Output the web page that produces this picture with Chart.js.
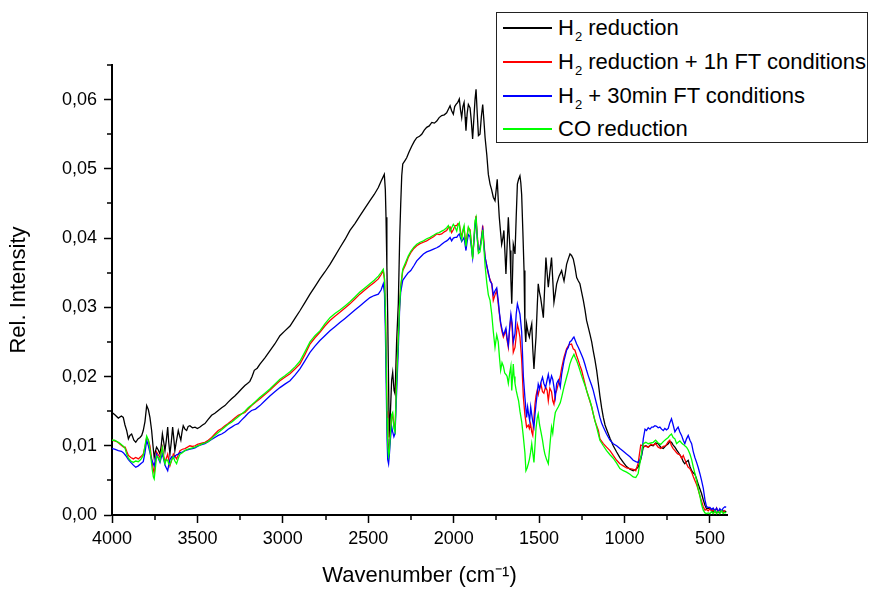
<!DOCTYPE html>
<html><head><meta charset="utf-8">
<script src="https://cdn.jsdelivr.net/npm/chart.js@4/dist/chart.umd.min.js"></script>
<style>
html,body{margin:0;padding:0;background:#fff;}
#wrap{position:relative;width:871px;height:589px;}
#c{position:absolute;left:0;top:0;}
#legend{position:absolute;left:496px;top:12px;width:372px;height:131px;box-sizing:border-box;border:1px solid #222;background:#fff;font-family:"Liberation Sans",Arial,sans-serif;font-size:22px;color:#000;}
.ln{position:absolute;left:6px;width:49px;height:2px;}
.tx{position:absolute;left:61px;height:24px;line-height:24px;white-space:nowrap;}
.tx sub{font-size:13px;vertical-align:-6px;line-height:0;margin-left:1px;}
</style>
</head><body>
<div id="wrap"><canvas id="c" width="871" height="589"></canvas><div id="legend"></div></div>
<script>
const seriesNames = ['H₂ reduction', 'H₂ reduction + 1h FT conditions', 'H₂ + 30min FT conditions', 'CO reduction'];
const seriesColors = ['#000000', '#ff0000', '#0000ff', '#00ff00'];
const xTickLabels = [4000, 3500, 3000, 2500, 2000, 1500, 1000, 500];
const yTickLabels = ['0,00', '0,01', '0,02', '0,03', '0,04', '0,05', '0,06'];

const blackWn = [4000,3985,3963,3945,3934,3924,3914,3904,3895,3885,3872,3861,3848,3836,3826,3817,3807,3797,3787,3778,3768,3760,3753,3746,3739,3729,3719,3712,3705,3697,3690,3682,3674,3668,3661,3653,3645,3638,3632,3622,3612,3605,3597,3590,3583,3573,3563,3554,3544,3529,3514,3500,3485,3470,3456,3437,3417,3398,3378,3358,3339,3320,3300,3281,3261,3242,3222,3207,3193,3180,3167,3150,3134,3105,3076,3047,3017,2988,2958,2929,2900,2870,2841,2812,2783,2754,2724,2695,2666,2636,2607,2578,2549,2520,2490,2465,2441,2425,2406,2400,2396,2391,2386,2381,2377,2370,2363,2357,2349,2343,2334,2324,2316,2310,2304,2298,2285,2275,2260,2245,2230,2216,2200,2187,2172,2158,2143,2128,2113,2099,2085,2070,2055,2041,2031,2021,2012,2002,1994,1986,1976,1967,1960,1953,1946,1939,1933,1928,1921,1914,1904,1897,1889,1880,1875,1869,1862,1855,1846,1838,1830,1823,1816,1806,1797,1787,1778,1768,1758,1751,1745,1739,1733,1726,1719,1712,1706,1700,1694,1687,1680,1675,1670,1665,1660,1655,1651,1646,1641,1634,1627,1620,1612,1607,1602,1595,1588,1583,1578,1573,1569,1563,1557,1550,1543,1537,1530,1524,1518,1511,1505,1498,1491,1483,1475,1467,1460,1453,1446,1437,1427,1420,1413,1405,1397,1383,1368,1361,1354,1346,1339,1329,1319,1310,1300,1290,1280,1270,1261,1251,1241,1231,1222,1212,1202,1192,1183,1173,1163,1153,1144,1134,1124,1114,1105,1085,1066,1046,1027,1007,988,968,949,934,920,905,890,875,861,846,832,818,803,788,773,759,744,735,725,715,705,695,686,676,666,656,647,637,627,617,607,598,588,578,569,559,549,539,529,520,510,500,490,481,471,461,451,442,432,422,412,405];
const blackVal = [0.0148,0.0145,0.0140,0.0143,0.0141,0.0130,0.0122,0.0110,0.0115,0.0117,0.0108,0.0105,0.0110,0.0112,0.0115,0.0122,0.0135,0.0158,0.0152,0.0141,0.0122,0.0100,0.0083,0.0092,0.0098,0.0094,0.0088,0.0100,0.0117,0.0105,0.0093,0.0108,0.0127,0.0105,0.0088,0.0105,0.0127,0.0110,0.0093,0.0108,0.0122,0.0115,0.0108,0.0120,0.0129,0.0124,0.0122,0.0128,0.0129,0.0126,0.0127,0.0125,0.0127,0.0130,0.0132,0.0138,0.0144,0.0147,0.0151,0.0155,0.0158,0.0163,0.0168,0.0172,0.0177,0.0182,0.0187,0.0190,0.0193,0.0200,0.0209,0.0212,0.0218,0.0227,0.0237,0.0247,0.0259,0.0266,0.0273,0.0284,0.0295,0.0307,0.0319,0.0330,0.0341,0.0351,0.0362,0.0374,0.0386,0.0398,0.0411,0.0421,0.0432,0.0443,0.0454,0.0463,0.0473,0.0482,0.0492,0.0470,0.0430,0.0360,0.0285,0.0190,0.0112,0.0150,0.0195,0.0206,0.0180,0.0175,0.0250,0.0305,0.0400,0.0449,0.0490,0.0507,0.0512,0.0516,0.0525,0.0533,0.0540,0.0545,0.0547,0.0550,0.0556,0.0560,0.0562,0.0567,0.0566,0.0569,0.0574,0.0577,0.0578,0.0581,0.0586,0.0591,0.0584,0.0579,0.0590,0.0593,0.0596,0.0601,0.0585,0.0574,0.0590,0.0596,0.0575,0.0555,0.0580,0.0593,0.0588,0.0570,0.0543,0.0580,0.0600,0.0615,0.0580,0.0548,0.0550,0.0575,0.0593,0.0570,0.0545,0.0520,0.0492,0.0478,0.0470,0.0459,0.0454,0.0470,0.0485,0.0455,0.0430,0.0410,0.0391,0.0400,0.0411,0.0380,0.0348,0.0390,0.0430,0.0405,0.0382,0.0340,0.0305,0.0350,0.0391,0.0385,0.0377,0.0430,0.0478,0.0485,0.0490,0.0480,0.0463,0.0410,0.0353,0.0270,0.0250,0.0276,0.0270,0.0262,0.0257,0.0268,0.0276,0.0240,0.0211,0.0235,0.0257,0.0300,0.0334,0.0322,0.0314,0.0300,0.0285,0.0330,0.0372,0.0350,0.0329,0.0350,0.0372,0.0340,0.0307,0.0320,0.0334,0.0345,0.0353,0.0345,0.0338,0.0350,0.0362,0.0370,0.0377,0.0375,0.0370,0.0358,0.0343,0.0338,0.0334,0.0322,0.0310,0.0296,0.0281,0.0271,0.0261,0.0250,0.0237,0.0224,0.0209,0.0190,0.0172,0.0155,0.0141,0.0130,0.0124,0.0111,0.0100,0.0091,0.0083,0.0076,0.0070,0.0066,0.0064,0.0066,0.0069,0.0080,0.0098,0.0100,0.0098,0.0101,0.0100,0.0104,0.0103,0.0098,0.0096,0.0100,0.0103,0.0106,0.0105,0.0101,0.0098,0.0094,0.0091,0.0087,0.0083,0.0077,0.0074,0.0077,0.0079,0.0070,0.0064,0.0061,0.0059,0.0052,0.0045,0.0038,0.0031,0.0022,0.0014,0.0009,0.0010,0.0009,0.0008,0.0004,0.0007,0.0003,0.0005,0.0003,0.0006,0.0006,0.0004,0.0006];

const ftWn = [4000,3985,3971,3956,3942,3932,3923,3914,3904,3890,3875,3861,3846,3832,3817,3807,3797,3787,3778,3770,3764,3758,3753,3746,3739,3729,3719,3712,3705,3697,3690,3682,3674,3668,3661,3650,3641,3632,3622,3612,3602,3588,3573,3558,3544,3529,3514,3500,3485,3470,3456,3437,3417,3398,3378,3358,3339,3320,3300,3281,3261,3242,3222,3203,3183,3160,3134,3105,3076,3047,3017,2988,2958,2929,2900,2870,2841,2812,2783,2754,2724,2695,2666,2636,2607,2578,2549,2520,2490,2465,2441,2425,2412,2405,2400,2395,2390,2386,2381,2377,2370,2363,2357,2350,2343,2335,2324,2316,2310,2298,2281,2266,2251,2233,2216,2197,2177,2158,2138,2118,2099,2085,2070,2055,2041,2031,2021,2012,2002,1992,1982,1975,1967,1960,1953,1946,1939,1933,1928,1921,1914,1904,1897,1889,1880,1875,1869,1862,1855,1846,1838,1830,1823,1816,1806,1797,1787,1777,1768,1758,1748,1739,1732,1725,1717,1709,1701,1694,1687,1680,1672,1665,1658,1651,1641,1634,1627,1620,1612,1602,1592,1583,1573,1563,1557,1550,1543,1537,1530,1524,1518,1511,1505,1497,1489,1480,1472,1462,1453,1446,1437,1427,1420,1413,1405,1397,1387,1376,1368,1354,1339,1325,1310,1300,1290,1280,1270,1261,1251,1241,1231,1222,1212,1202,1192,1183,1173,1163,1153,1144,1124,1105,1085,1066,1046,1027,1007,988,968,949,934,920,905,890,875,861,846,832,818,803,788,773,759,744,735,725,715,705,695,686,676,666,656,647,637,627,617,607,598,588,578,569,559,549,539,529,520,510,500,490,481,471,461,451,442,432,422,412,405];
const ftVal = [0.0108,0.0107,0.0106,0.0103,0.0100,0.0098,0.0098,0.0092,0.0086,0.0083,0.0081,0.0083,0.0081,0.0084,0.0088,0.0098,0.0112,0.0108,0.0100,0.0085,0.0074,0.0066,0.0060,0.0075,0.0091,0.0087,0.0083,0.0090,0.0098,0.0085,0.0076,0.0082,0.0088,0.0080,0.0071,0.0080,0.0088,0.0085,0.0081,0.0087,0.0093,0.0095,0.0096,0.0098,0.0100,0.0099,0.0100,0.0102,0.0103,0.0104,0.0105,0.0108,0.0112,0.0117,0.0122,0.0125,0.0129,0.0132,0.0136,0.0140,0.0144,0.0146,0.0148,0.0153,0.0158,0.0163,0.0168,0.0174,0.0180,0.0187,0.0194,0.0199,0.0204,0.0211,0.0218,0.0232,0.0247,0.0256,0.0264,0.0273,0.0281,0.0287,0.0293,0.0299,0.0305,0.0312,0.0319,0.0325,0.0331,0.0336,0.0341,0.0347,0.0353,0.0340,0.0300,0.0230,0.0150,0.0110,0.0095,0.0098,0.0120,0.0140,0.0145,0.0130,0.0125,0.0190,0.0257,0.0305,0.0329,0.0353,0.0362,0.0372,0.0379,0.0385,0.0389,0.0392,0.0394,0.0396,0.0399,0.0402,0.0406,0.0405,0.0406,0.0409,0.0411,0.0415,0.0416,0.0408,0.0412,0.0418,0.0418,0.0421,0.0420,0.0410,0.0401,0.0410,0.0415,0.0400,0.0391,0.0405,0.0415,0.0412,0.0395,0.0372,0.0400,0.0420,0.0432,0.0405,0.0382,0.0385,0.0400,0.0418,0.0395,0.0372,0.0360,0.0348,0.0340,0.0334,0.0310,0.0318,0.0324,0.0305,0.0290,0.0276,0.0265,0.0257,0.0262,0.0266,0.0252,0.0242,0.0270,0.0285,0.0272,0.0235,0.0242,0.0258,0.0275,0.0268,0.0257,0.0225,0.0170,0.0145,0.0127,0.0130,0.0125,0.0132,0.0120,0.0115,0.0140,0.0160,0.0172,0.0180,0.0174,0.0183,0.0189,0.0178,0.0176,0.0185,0.0180,0.0165,0.0183,0.0178,0.0165,0.0160,0.0175,0.0180,0.0190,0.0200,0.0212,0.0228,0.0240,0.0246,0.0247,0.0240,0.0238,0.0230,0.0223,0.0216,0.0209,0.0199,0.0189,0.0180,0.0172,0.0164,0.0156,0.0146,0.0136,0.0129,0.0122,0.0110,0.0103,0.0098,0.0093,0.0086,0.0079,0.0074,0.0071,0.0068,0.0067,0.0066,0.0064,0.0075,0.0101,0.0100,0.0099,0.0098,0.0102,0.0101,0.0103,0.0098,0.0096,0.0099,0.0100,0.0106,0.0108,0.0100,0.0096,0.0093,0.0090,0.0088,0.0087,0.0082,0.0086,0.0080,0.0074,0.0069,0.0067,0.0062,0.0056,0.0050,0.0044,0.0037,0.0028,0.0020,0.0012,0.0007,0.0008,0.0006,0.0009,0.0005,0.0008,0.0004,0.0010,0.0004,0.0008,0.0006,0.0003,0.0007];

const minWn = [4000,3985,3963,3945,3934,3920,3904,3890,3875,3861,3846,3832,3817,3807,3797,3787,3778,3768,3758,3753,3746,3739,3729,3719,3712,3705,3697,3690,3682,3674,3668,3661,3650,3641,3632,3622,3612,3602,3588,3573,3558,3544,3529,3514,3500,3485,3470,3456,3437,3417,3398,3378,3358,3339,3320,3300,3281,3261,3242,3222,3203,3183,3160,3134,3105,3076,3047,3017,2988,2958,2929,2900,2870,2841,2812,2783,2754,2724,2695,2666,2636,2607,2578,2549,2520,2490,2465,2441,2425,2412,2405,2400,2395,2390,2386,2381,2377,2370,2363,2357,2350,2343,2335,2324,2316,2310,2298,2281,2266,2251,2233,2216,2197,2177,2158,2138,2118,2099,2085,2070,2055,2041,2031,2021,2012,2002,1992,1982,1975,1967,1960,1953,1946,1939,1933,1928,1921,1914,1904,1897,1889,1880,1875,1869,1862,1855,1846,1838,1830,1823,1816,1806,1797,1787,1777,1768,1758,1748,1739,1732,1725,1717,1709,1701,1694,1687,1680,1672,1665,1658,1651,1641,1634,1627,1620,1612,1602,1592,1583,1573,1567,1561,1555,1549,1543,1537,1530,1524,1518,1511,1505,1497,1489,1480,1472,1462,1453,1446,1437,1427,1420,1413,1405,1397,1387,1376,1368,1354,1339,1329,1320,1310,1303,1296,1288,1280,1270,1261,1251,1241,1231,1222,1212,1202,1192,1183,1173,1163,1153,1144,1134,1124,1105,1085,1066,1046,1027,1007,988,968,949,934,920,910,900,890,880,871,861,851,841,832,822,812,803,793,783,773,764,754,744,735,725,715,705,695,686,676,666,656,647,637,627,617,607,598,588,578,569,559,549,539,529,520,510,500,490,481,471,461,451,442,432,422,412,405];
const minVal = [0.0096,0.0095,0.0093,0.0092,0.0090,0.0086,0.0080,0.0076,0.0072,0.0069,0.0071,0.0074,0.0077,0.0090,0.0108,0.0100,0.0090,0.0080,0.0074,0.0071,0.0080,0.0088,0.0082,0.0076,0.0083,0.0088,0.0080,0.0072,0.0068,0.0064,0.0072,0.0080,0.0084,0.0082,0.0085,0.0087,0.0088,0.0090,0.0091,0.0093,0.0094,0.0095,0.0096,0.0097,0.0099,0.0101,0.0102,0.0103,0.0106,0.0109,0.0112,0.0115,0.0117,0.0120,0.0124,0.0127,0.0130,0.0132,0.0137,0.0142,0.0147,0.0151,0.0153,0.0158,0.0165,0.0172,0.0178,0.0184,0.0189,0.0194,0.0202,0.0211,0.0223,0.0235,0.0244,0.0252,0.0259,0.0266,0.0272,0.0278,0.0284,0.0290,0.0296,0.0302,0.0308,0.0314,0.0317,0.0319,0.0325,0.0334,0.0320,0.0270,0.0190,0.0110,0.0080,0.0074,0.0085,0.0110,0.0128,0.0120,0.0113,0.0118,0.0170,0.0240,0.0300,0.0322,0.0339,0.0345,0.0350,0.0353,0.0360,0.0367,0.0372,0.0377,0.0380,0.0382,0.0384,0.0386,0.0388,0.0391,0.0394,0.0396,0.0398,0.0401,0.0396,0.0400,0.0401,0.0401,0.0404,0.0406,0.0400,0.0395,0.0398,0.0401,0.0390,0.0382,0.0395,0.0405,0.0402,0.0388,0.0372,0.0400,0.0418,0.0425,0.0400,0.0382,0.0385,0.0398,0.0412,0.0390,0.0372,0.0360,0.0350,0.0338,0.0334,0.0318,0.0324,0.0328,0.0310,0.0292,0.0278,0.0268,0.0260,0.0265,0.0270,0.0255,0.0245,0.0272,0.0290,0.0278,0.0250,0.0262,0.0290,0.0305,0.0298,0.0290,0.0265,0.0200,0.0170,0.0141,0.0156,0.0145,0.0136,0.0156,0.0145,0.0135,0.0127,0.0145,0.0160,0.0175,0.0189,0.0182,0.0192,0.0199,0.0190,0.0184,0.0195,0.0203,0.0190,0.0201,0.0196,0.0185,0.0170,0.0190,0.0195,0.0185,0.0203,0.0223,0.0238,0.0242,0.0250,0.0252,0.0255,0.0257,0.0252,0.0247,0.0242,0.0237,0.0231,0.0225,0.0217,0.0209,0.0201,0.0194,0.0187,0.0180,0.0170,0.0160,0.0150,0.0141,0.0133,0.0127,0.0117,0.0108,0.0103,0.0100,0.0096,0.0092,0.0088,0.0084,0.0079,0.0077,0.0076,0.0080,0.0086,0.0110,0.0124,0.0122,0.0126,0.0124,0.0127,0.0127,0.0129,0.0128,0.0126,0.0127,0.0124,0.0122,0.0125,0.0123,0.0125,0.0133,0.0139,0.0130,0.0120,0.0124,0.0127,0.0120,0.0115,0.0108,0.0103,0.0110,0.0115,0.0108,0.0103,0.0092,0.0083,0.0076,0.0069,0.0060,0.0050,0.0039,0.0022,0.0012,0.0011,0.0011,0.0008,0.0010,0.0006,0.0010,0.0005,0.0009,0.0006,0.0010,0.0012,0.0011];

const coWn = [4000,3985,3971,3956,3942,3932,3923,3914,3904,3890,3875,3861,3846,3832,3817,3807,3797,3787,3778,3770,3764,3758,3753,3746,3739,3729,3719,3712,3705,3697,3690,3682,3674,3668,3661,3650,3641,3632,3622,3612,3602,3588,3573,3558,3544,3529,3514,3500,3485,3470,3456,3437,3417,3398,3378,3358,3339,3320,3300,3281,3261,3242,3222,3203,3183,3160,3134,3105,3076,3047,3017,2988,2958,2929,2900,2870,2841,2812,2783,2754,2724,2695,2666,2636,2607,2578,2549,2520,2490,2465,2441,2425,2412,2405,2400,2395,2390,2386,2381,2377,2370,2363,2357,2350,2343,2335,2324,2316,2310,2298,2281,2266,2251,2233,2216,2197,2177,2158,2138,2118,2099,2085,2070,2055,2041,2031,2021,2012,2002,1992,1982,1975,1967,1960,1953,1946,1939,1933,1928,1921,1914,1904,1897,1889,1880,1875,1869,1862,1855,1846,1838,1830,1823,1816,1806,1797,1787,1777,1768,1758,1748,1739,1732,1725,1717,1709,1701,1694,1687,1680,1672,1665,1660,1655,1651,1646,1641,1634,1627,1620,1612,1602,1593,1583,1577,1570,1563,1557,1550,1543,1537,1530,1524,1518,1511,1505,1497,1489,1480,1472,1466,1456,1446,1437,1427,1420,1413,1405,1397,1388,1376,1368,1354,1339,1329,1320,1310,1296,1288,1280,1270,1261,1251,1241,1231,1222,1212,1202,1192,1183,1173,1163,1153,1144,1124,1105,1085,1066,1046,1027,1007,988,968,949,934,920,910,900,890,875,861,846,832,818,803,788,773,759,744,735,725,715,705,695,686,676,666,656,647,637,627,617,607,598,588,578,569,559,549,539,529,520,510,500,490,481,471,461,451,442,432,422,412,405];
const coVal = [0.0108,0.0108,0.0106,0.0104,0.0101,0.0099,0.0096,0.0088,0.0082,0.0078,0.0076,0.0078,0.0077,0.0080,0.0086,0.0100,0.0114,0.0108,0.0095,0.0078,0.0065,0.0055,0.0052,0.0068,0.0085,0.0083,0.0078,0.0090,0.0097,0.0082,0.0074,0.0080,0.0079,0.0074,0.0073,0.0080,0.0084,0.0078,0.0074,0.0082,0.0088,0.0090,0.0093,0.0095,0.0096,0.0097,0.0098,0.0100,0.0101,0.0103,0.0104,0.0106,0.0110,0.0115,0.0119,0.0123,0.0127,0.0131,0.0134,0.0138,0.0142,0.0146,0.0150,0.0155,0.0159,0.0164,0.0170,0.0176,0.0182,0.0189,0.0196,0.0201,0.0207,0.0214,0.0222,0.0236,0.0250,0.0259,0.0266,0.0276,0.0285,0.0291,0.0296,0.0302,0.0308,0.0315,0.0322,0.0328,0.0334,0.0339,0.0345,0.0350,0.0355,0.0342,0.0300,0.0225,0.0140,0.0100,0.0085,0.0090,0.0118,0.0145,0.0148,0.0125,0.0120,0.0185,0.0255,0.0305,0.0330,0.0355,0.0365,0.0374,0.0381,0.0387,0.0391,0.0394,0.0396,0.0399,0.0401,0.0404,0.0407,0.0408,0.0410,0.0412,0.0415,0.0418,0.0410,0.0415,0.0420,0.0416,0.0410,0.0418,0.0422,0.0405,0.0398,0.0412,0.0418,0.0398,0.0388,0.0402,0.0416,0.0410,0.0392,0.0370,0.0405,0.0425,0.0430,0.0400,0.0378,0.0380,0.0395,0.0412,0.0385,0.0360,0.0335,0.0318,0.0310,0.0290,0.0265,0.0242,0.0260,0.0250,0.0228,0.0209,0.0220,0.0215,0.0205,0.0203,0.0200,0.0190,0.0205,0.0215,0.0180,0.0200,0.0218,0.0200,0.0190,0.0180,0.0172,0.0165,0.0150,0.0135,0.0115,0.0090,0.0064,0.0068,0.0074,0.0080,0.0090,0.0103,0.0090,0.0076,0.0100,0.0125,0.0140,0.0146,0.0130,0.0120,0.0108,0.0095,0.0088,0.0080,0.0074,0.0100,0.0127,0.0118,0.0135,0.0148,0.0152,0.0156,0.0162,0.0170,0.0185,0.0199,0.0208,0.0218,0.0225,0.0232,0.0227,0.0223,0.0216,0.0209,0.0201,0.0194,0.0187,0.0180,0.0172,0.0165,0.0156,0.0146,0.0136,0.0127,0.0117,0.0108,0.0100,0.0093,0.0087,0.0082,0.0075,0.0067,0.0064,0.0062,0.0059,0.0055,0.0054,0.0060,0.0075,0.0090,0.0103,0.0105,0.0103,0.0104,0.0105,0.0108,0.0104,0.0102,0.0106,0.0109,0.0112,0.0115,0.0117,0.0112,0.0110,0.0103,0.0105,0.0107,0.0104,0.0102,0.0100,0.0098,0.0094,0.0088,0.0080,0.0070,0.0060,0.0050,0.0038,0.0028,0.0015,0.0007,0.0003,0.0002,0.0003,0.0002,0.0005,0.0002,0.0006,0.0002,0.0005,0.0002,0.0006,0.0002,0.0004,0.0003];

const seriesWn = [blackWn, ftWn, minWn, coWn];
const seriesVal = [blackVal, ftVal, minVal, coVal];

const FONT = '"Liberation Sans", Arial, sans-serif';

const datasets = seriesNames.map((name, i) => ({
  label: name,
  data: seriesWn[i].map((w, k) => ({x: w, y: seriesVal[i][k]})),
  borderColor: seriesColors[i],
  backgroundColor: seriesColors[i],
  borderWidth: 1.3,
  pointRadius: 0,
  tension: 0,
  fill: false,
  order: 4 - i
}));

const minorTicks = {
  id: 'minorTicks',
  afterDraw(chart) {
    const ctx = chart.ctx, xs = chart.scales.x, ys = chart.scales.y;
    ctx.save();
    ctx.strokeStyle = '#000';
    ctx.lineWidth = 1.5;
    ctx.beginPath();
    for (let k = 0; k < xTickLabels.length - 1; k++) {
      const px = Math.round(xs.getPixelForValue((xTickLabels[k] + xTickLabels[k + 1]) / 2));
      ctx.moveTo(px, ys.bottom); ctx.lineTo(px, ys.bottom + 5);
    }
    for (let k = 0; k < yTickLabels.length; k++) {
      const v = k * 0.01 + 0.005;
      const py = Math.round(ys.getPixelForValue(v));
      ctx.moveTo(xs.left, py); ctx.lineTo(xs.left - 5, py);
    }
    ctx.stroke();
    ctx.restore();
  }
};

new Chart(document.getElementById('c'), {
  type: 'line',
  data: {datasets},
  plugins: [minorTicks],
  options: {
    responsive: false,
    animation: false,
    events: [],
    layout: {padding: {left: 0, top: 65, right: 144, bottom: 0}},
    plugins: {legend: {display: false}, tooltip: {enabled: false}},
    scales: {
      x: {
        type: 'linear', reverse: true, min: 400, max: 4000,
        afterFit: s => { s.height = 74; },
        afterBuildTicks: s => { s.ticks = xTickLabels.map(v => ({value: v})); },
        border: {display: true, color: '#000', width: 2},
        grid: {display: true, drawOnChartArea: false, drawTicks: true, tickLength: 8, tickWidth: 1.5, tickColor: '#000'},
        ticks: {color: '#000', padding: 5, maxRotation: 0, autoSkip: false,
          font: {family: FONT, size: 18},
          callback: v => String(v)},
        title: {display: true, text: 'Wavenumber (cm⁻¹)', color: '#000', padding: {top: 0, bottom: 0},
          font: {family: FONT, size: 22}}
      },
      y: {
        type: 'linear', min: 0, max: 0.065,
        afterFit: s => { s.width = 112; },
        afterBuildTicks: s => { s.ticks = yTickLabels.map((t, k) => ({value: k * 0.01})); },
        border: {display: true, color: '#000', width: 2},
        grid: {display: true, drawOnChartArea: false, drawTicks: true, tickLength: 8, tickWidth: 1.5, tickColor: '#000'},
        ticks: {color: '#000', padding: 7, autoSkip: false,
          font: {family: FONT, size: 18},
          callback: v => yTickLabels[Math.round(v * 100)] || ''},
        title: {display: true, text: 'Rel. Intensity', color: '#000', padding: {top: 6, bottom: 0},
          font: {family: FONT, size: 22}}
      }
    }
  }
});

// HTML legend built from the series names and colours
const leg = document.getElementById('legend');
seriesNames.forEach((name, i) => {
  const ln = document.createElement('div');
  ln.className = 'ln';
  ln.style.top = Math.round(14 + 33.8 * i) + 'px';
  ln.style.backgroundColor = seriesColors[i];
  leg.appendChild(ln);
  const tx = document.createElement('div');
  tx.className = 'tx';
  tx.style.top = Math.round(3 + 33.8 * i) + 'px';
  const parts = name.split('₂');
  tx.appendChild(document.createTextNode(parts[0]));
  if (parts.length > 1) {
    const sub = document.createElement('sub');
    sub.textContent = '2';
    tx.appendChild(sub);
    tx.appendChild(document.createTextNode(parts[1]));
  }
  leg.appendChild(tx);
});
</script>
</body></html>
